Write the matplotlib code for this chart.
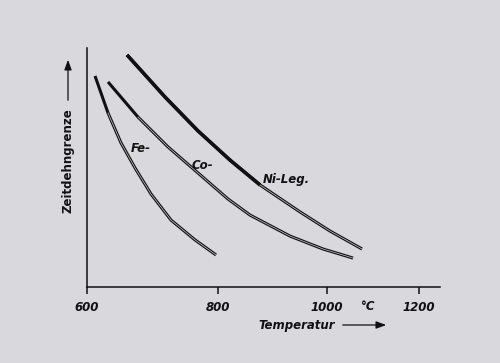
import numpy as np
import matplotlib
matplotlib.use("Agg")
import matplotlib.pyplot as plt

# Data (temperature in °C, creep limit in arbitrary units)
fe_T = [611.1, 629.4, 648.0, 668.6, 692.6, 723.5, 761.9, 796.7]
fe_y = [88.3, 72.8, 60.3, 49.8, 38.9, 28.0, 19.7, 13.4]

co_T = [629.4, 673.0, 718.8, 766.8, 817.1, 855.5, 928.9, 993.0, 1054.3]
co_y = [85.8, 71.1, 58.6, 47.7, 36.8, 30.1, 21.3, 15.9, 12.1]

ni_T = [656.8, 714.1, 766.8, 820.5, 873.4, 948.0, 1007.1, 1073.2]
ni_y = [97.1, 79.5, 65.3, 53.1, 42.7, 31.4, 23.4, 15.9]

x_ticks = [600, 800, 1000, 1200]
x_ticklabels = ["600", "800", "1000", "1200"]

BG = "#d9d9dd"
W, H = 500, 363

fig = plt.figure(figsize=(5.0, 3.63), dpi=100, facecolor=BG)
ax = fig.add_axes([87 / W, 1 - 287 / H, (440 - 87) / W, (287 - 48) / H])
ax.set_facecolor(BG)

ax.set_xscale("function", functions=(lambda t: np.log10(np.asarray(t) + 273.0),
                                      lambda u: 10 ** np.asarray(u) - 273.0))
ax.set_xlim(600, 1249)
ax.set_ylim(0, 100)

# black stroke with a thin light core -> double-line look of the original
for T, y, start in [(fe_T, fe_y, 1), (co_T, co_y, 1), (ni_T, ni_y, 4)]:
    ax.plot(T, y, color="#111111", lw=2.2, solid_capstyle="butt",
            solid_joinstyle="round", zorder=3)
    ax.plot(T[start:], y[start:], color="#e4e4e8", lw=0.45,
            solid_joinstyle="round", zorder=4)
# heavier upper part of the Ni curve
ax.plot(ni_T[:5], ni_y[:5], color="#111111", lw=2.6, solid_capstyle="butt",
        solid_joinstyle="round", zorder=3)

for s in ["top", "right"]:
    ax.spines[s].set_visible(False)
for s in ["left", "bottom"]:
    ax.spines[s].set_linewidth(1.1)
    ax.spines[s].set_color("#111111")

ax.set_yticks([])
ax.set_xticks(x_ticks)
ax.set_xticklabels(x_ticklabels)
ax.xaxis.set_minor_locator(matplotlib.ticker.NullLocator())
ax.tick_params(axis="x", direction="out", length=5, width=1.1, pad=5,
               labelsize=8.5, colors="#111111")
for lab in ax.get_xticklabels():
    lab.set_fontstyle("italic")
    lab.set_fontweight("bold")

tkw = dict(fontstyle="italic", fontweight="bold", fontsize=8.5, color="#111111")

def px(x, y):
    return x / W, 1 - y / H

fig.text(*px(131, 149), "Fe-", ha="left", va="center", **tkw)
fig.text(*px(192, 166), "Co-", ha="left", va="center", **tkw)
fig.text(*px(263, 179), "Ni-Leg.", ha="left", va="center", **tkw)
fig.text(*px(368, 307), "°C", ha="center", va="center", **tkw)
fig.text(*px(258, 325), "Temperatur", ha="left", va="center", **tkw)
fig.text(*px(68, 161), "Zeitdehngrenze", ha="center", va="center",
         rotation=90, fontstyle="normal", fontweight="bold", fontsize=8.5,
         color="#111111")

fig.patches.append(matplotlib.patches.FancyArrowPatch(
    px(340, 325), px(389, 325), transform=fig.transFigure,
    arrowstyle="-|>,head_length=6,head_width=2.2", color="#111111", lw=0.9))
fig.patches.append(matplotlib.patches.FancyArrowPatch(
    px(68, 103), px(68, 57), transform=fig.transFigure,
    arrowstyle="-|>,head_length=6,head_width=2.2", color="#111111", lw=0.9))

fig.savefig("out.png", dpi=100, facecolor=BG)
